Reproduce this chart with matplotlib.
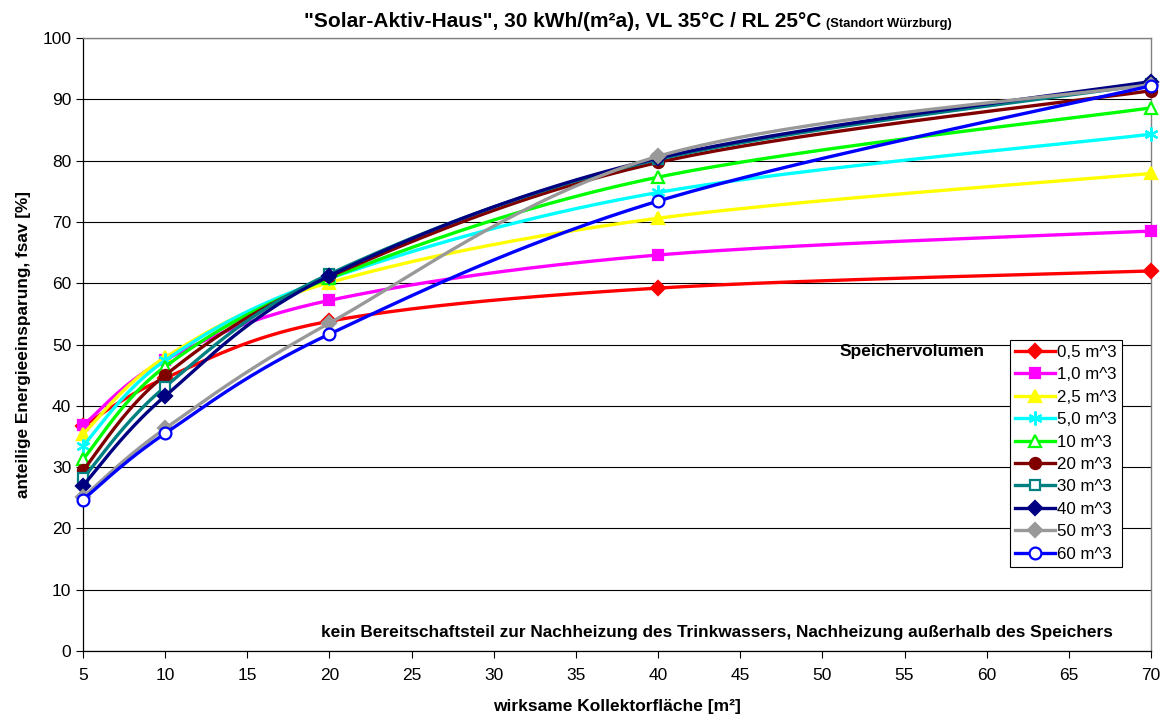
import numpy as np
import matplotlib
matplotlib.use("Agg")
import matplotlib.pyplot as plt

plt.rcParams['font.family'] = ['Liberation Sans', 'DejaVu Sans']

flaeche = [5, 10, 20, 40, 70]
labels = ["0,5 m^3", "1,0 m^3", "2,5 m^3", "5,0 m^3", "10 m^3",
          "20 m^3", "30 m^3", "40 m^3", "50 m^3", "60 m^3"]
v_05 = [36.7, 44.5, 53.8, 59.2, 62.0]
v_10 = [36.8, 47.5, 57.2, 64.6, 68.5]
v_25 = [35.4, 47.9, 60.1, 70.6, 77.9]
v_50 = [33.5, 47.4, 60.8, 74.8, 84.3]
v_100 = [31.3, 46.4, 60.8, 77.3, 88.6]
v_200 = [29.5, 45.0, 61.1, 79.7, 91.4]
v_300 = [28.2, 43.1, 61.5, 80.2, 92.5]
v_400 = [27.0, 41.6, 61.2, 80.4, 92.9]
v_500 = [25.1, 36.3, 53.5, 80.7, 92.4]
v_600 = [24.7, 35.5, 51.7, 73.4, 92.2]
series = [v_05, v_10, v_25, v_50, v_100, v_200, v_300, v_400, v_500, v_600]

colors = ['#FF0000', '#FF00FF', '#FFFF00', '#00FFFF', '#00FF00',
          '#800000', '#008080', '#000080', '#999999', '#0000FF']
markers = ['D', 's', '^', (6, 2, 0), '^', 'o', 's', 'D', 'D', 'o']
filled = [True, True, True, True, False, True, False, True, True, False]
msizes = [7.5, 7, 8.5, 10, 8.5, 8, 7.5, 7.5, 7.5, 8.5]

fig = plt.figure(figsize=(11.68, 7.22), dpi=100)
ax = fig.add_axes([0.0711, 0.0983, 0.9143, 0.8491])
ax.set_xlim(5, 70)
ax.set_ylim(0, 100)

W, H = 1068.0, 613.0
def to_px(x, y):
    return (np.asarray(x, float) - 5) / 65 * W, np.asarray(y, float) / 100 * H
def from_px(px, py):
    return px / W * 65 + 5, py / H * 100

def smooth(xs, ys, n=40):
    px, py = to_px(xs, ys)
    P = np.column_stack([px, py])
    out = []
    m = len(P)
    for i in range(m - 1):
        p0 = P[i - 1] if i > 0 else P[i]
        p1 = P[i]
        p2 = P[i + 1]
        p3 = P[i + 2] if i + 2 < m else P[i + 1]
        c1 = p1 + (p2 - p0) / 6.0
        c2 = p2 - (p3 - p1) / 6.0
        t = np.linspace(0, 1, n)[:, None]
        seg = ((1 - t) ** 3) * p1 + 3 * ((1 - t) ** 2) * t * c1 + 3 * (1 - t) * t ** 2 * c2 + t ** 3 * p2
        if i > 0:
            seg = seg[1:]
        out.append(seg)
    out = np.vstack(out)
    return from_px(out[:, 0], out[:, 1])

ax.yaxis.grid(True, color='#000000', linewidth=0.8)
ax.set_axisbelow(True)

for i, (vals, lab, c, mk, fl, ms) in enumerate(zip(series, labels, colors, markers, filled, msizes)):
    sx, sy = smooth(flaeche, vals)
    z = 3 + i
    ax.plot(sx, sy, color=c, linewidth=2.4, zorder=z, solid_capstyle='round')
    ax.plot(flaeche, vals, linestyle='none', marker=mk, markersize=ms,
            markerfacecolor=(c if fl else 'white'),
            markeredgecolor=c, markeredgewidth=1.6, zorder=z, clip_on=False)
    ax.plot([], [], color=c, linewidth=2.4, marker=mk, markersize=ms,
            markerfacecolor=(c if fl else 'white'), markeredgecolor=c,
            markeredgewidth=1.6, label=lab)

ax.set_xticks(np.arange(5, 71, 5))
ax.set_yticks(np.arange(0, 101, 10))
ax.tick_params(axis='both', labelsize=12.5, length=5, width=0.8, color='black')
ax.tick_params(axis='x', pad=7)
for s in ['left', 'bottom']:
    ax.spines[s].set_color('black')
    ax.spines[s].set_linewidth(0.9)
for s in ['top', 'right']:
    ax.spines[s].set_color('#808080')
    ax.spines[s].set_linewidth(1.0)

ax.set_xlabel('wirksame Kollektorfläche [m²]', fontsize=12.5, fontweight='bold', labelpad=12)
ax.set_ylabel('anteilige Energieeinsparung, fsav [%]', fontsize=12.4, fontweight='bold', labelpad=8)

leg = ax.legend(loc='upper left', bbox_to_anchor=(0.868, 0.508), fontsize=12.2,
                frameon=True, fancybox=False, edgecolor='black', framealpha=1,
                borderpad=0.3, labelspacing=0.44, handlelength=2.35, handletextpad=0.15,
                borderaxespad=0)
leg.get_frame().set_linewidth(0.8)
leg.set_zorder(20)

ax.text(0.776, 0.488, 'Speichervolumen', transform=ax.transAxes, fontsize=12.5,
        fontweight='bold', ha='center', va='center', zorder=21)
ax.text(0.964, 0.030, 'kein Bereitschaftsteil zur Nachheizung des Trinkwassers, Nachheizung außerhalb des Speichers',
        transform=ax.transAxes, fontsize=12.4, fontweight='bold', ha='right', va='center', zorder=21)

fig.text(0.703, 0.963, '"Solar-Aktiv-Haus", 30 kWh/(m²a), VL 35°C / RL 25°C',
         fontsize=15, fontweight='bold', ha='right', va='baseline')
fig.text(0.707, 0.963, '(Standort Würzburg)', fontsize=9.4, fontweight='bold',
         ha='left', va='baseline')

fig.savefig('out.png', dpi=100)
